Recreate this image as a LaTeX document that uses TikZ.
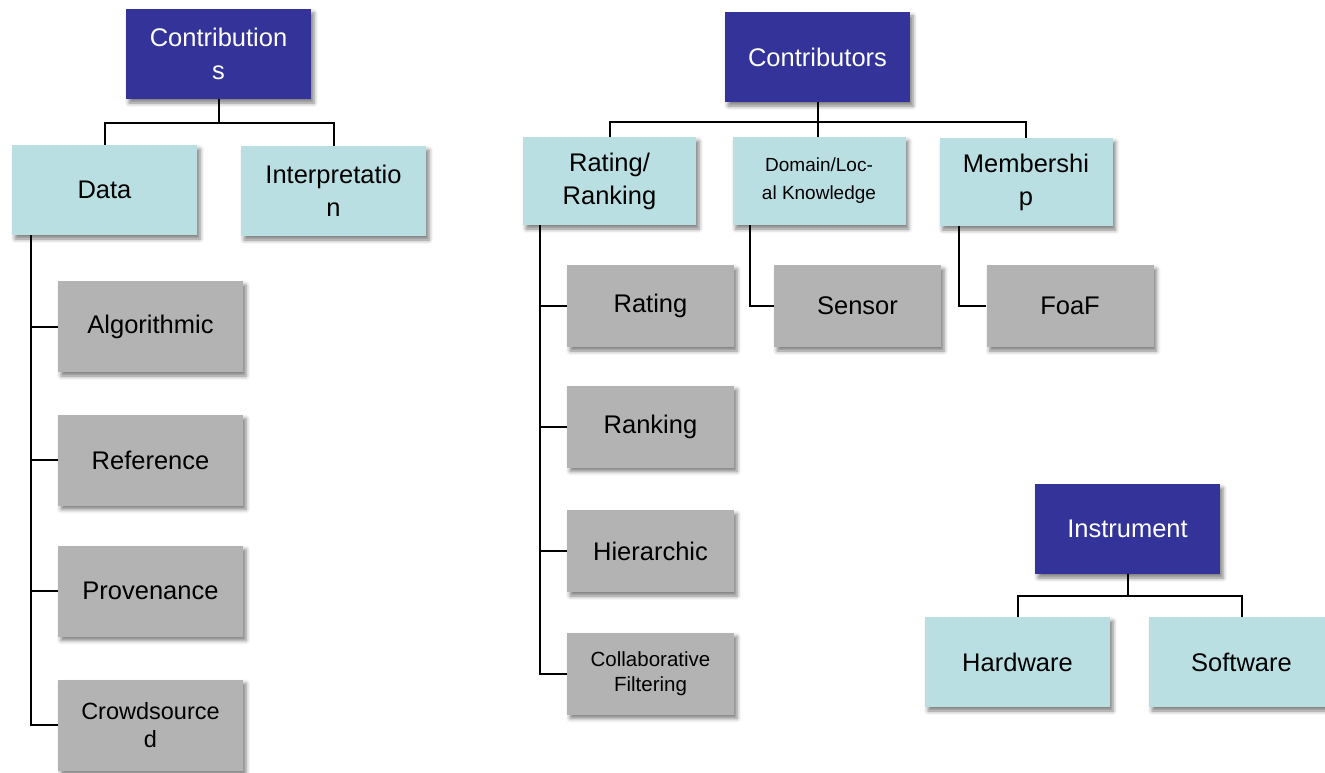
\documentclass[tikz,border=0pt]{standalone}
\usepackage{fontspec}
\setmainfont{Liberation Sans}
\usetikzlibrary{calc,shadows.blur}
\definecolor{dblue}{RGB}{51,51,153}
\definecolor{lblue}{RGB}{185,223,226}
\definecolor{gbox}{RGB}{179,179,179}
\tikzset{
  base/.style={inner sep=0pt, align=center, font=\fontsize{25.5}{33}\selectfont,
    blur shadow={shadow xshift=3pt, shadow yshift=-4pt, shadow blur radius=4pt, shadow opacity=50}},
  darkbox/.style={base, fill=dblue, text=white, minimum width=185pt, minimum height=90pt},
  lightbox/.style={base, fill=lblue, text=black, minimum width=185pt, minimum height=90pt},
  lightsmall/.style={base, fill=lblue, text=black, minimum width=173pt, minimum height=88pt},
  graybox/.style={base, fill=gbox, text=black, minimum width=185pt, minimum height=91pt},
  graysmall/.style={base, fill=gbox, text=black, minimum width=167pt, minimum height=82pt},
  conn/.style={draw=black, line width=2pt},
}
\begin{document}
\begin{tikzpicture}[x=1pt,y=-1pt]
\useasboundingbox (0,0) rectangle (1325,773);
% Contributions tree
\node[darkbox] (ctb) at (218.5,54) {Contribution\\s};
\node[lightbox] (data) at (104.5,190) {Data};
\node[lightbox] (interp) at (333.5,191) {Interpretatio\\n};
\node[graybox] (alg) at (150.5,326.5) {Algorithmic};
\node[graybox] (ref) at (150.5,460) {Reference};
\node[graybox] (prov) at (150.5,591) {Provenance};
\node[graybox,font=\fontsize{23.5}{28}\selectfont] (crowd) at (150.5,725) {Crowdsource\\d};
\coordinate (j1) at (218.5,123);
\coordinate (d0) at (31,235);
\draw[conn] (ctb.south) -- (j1);
\draw[conn] (data.north) |- (j1) -| (interp.north);
\draw[conn] (d0) |- (alg.west) (d0) |- (ref.west) (d0) |- (prov.west) (d0) |- (crowd.west);
% Contributors tree
\node[darkbox] (ctr) at (817.5,57) {Contributors};
\node[lightsmall] (rr) at (609.5,181) {Rating/\\Ranking};
\node[lightsmall,font=\fontsize{19}{28}\selectfont] (dom) at (819,181) {Domain/Loc-\\al Knowledge};
\node[lightsmall] (mem) at (1026,182) {Membershi\\p};
\node[graysmall] (rating) at (650.5,306) {Rating};
\node[graysmall] (ranking) at (650.5,426.5) {Ranking};
\node[graysmall] (hier) at (650.5,551) {Hierarchic};
\node[graysmall,font=\fontsize{20.5}{25}\selectfont] (collab) at (650.5,673.5) {Collaborative\\Filtering};
\node[graysmall] (sensor) at (857.5,306) {Sensor};
\node[graysmall] (foaf) at (1070,306) {FoaF};
\coordinate (j2) at (817.5,122);
\coordinate (r0) at (540,225);
\coordinate (s0) at (750,225);
\coordinate (m0) at (959,226);
\draw[conn] (ctr.south) -- (j2);
\draw[conn] (rr.north) |- (j2) -| (mem.north);
\draw[conn] (j2) -- (j2 |- dom.north);
\draw[conn] (r0) |- (rating.west) (r0) |- (ranking.west) (r0) |- (hier.west) (r0) |- (collab.west);
\draw[conn] (s0) |- (sensor.west);
\draw[conn] (m0) |- (foaf.west);
% Instrument tree
\node[darkbox] (inst) at (1127.5,529) {Instrument};
\node[lightbox] (hw) at (1017.5,662) {Hardware};
\node[lightbox] (sw) at (1241.5,662) {Software};
\coordinate (j3) at (1127.5,596);
\draw[conn] (inst.south) -- (j3);
\draw[conn] (hw.north) |- (j3) -| (sw.north);
\end{tikzpicture}
\end{document}
